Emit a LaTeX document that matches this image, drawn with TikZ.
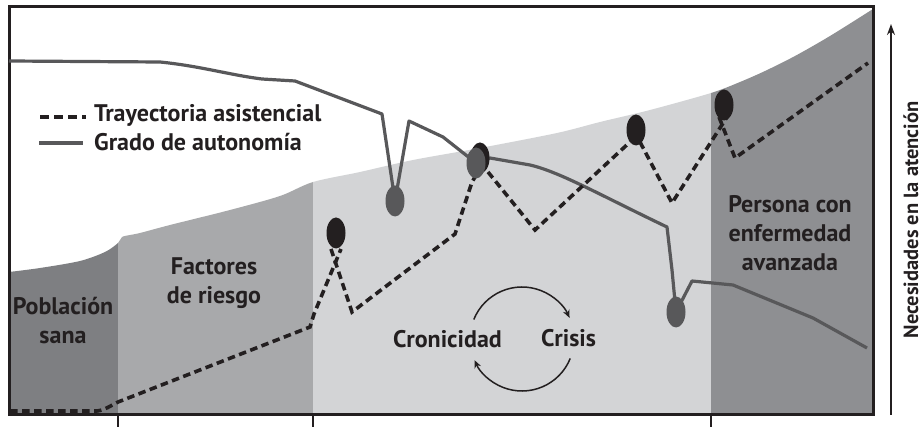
\documentclass[tikz,border=0pt]{standalone}
\usepackage{fontspec}
\setmainfont{PT Sans}
\usetikzlibrary{arrows.meta,shapes.geometric}
\definecolor{cblack}{HTML}{231F20}
\definecolor{cgray}{HTML}{58585A}
\definecolor{csana}{HTML}{7E7F82}
\definecolor{cfact}{HTML}{A8A9AB}
\definecolor{ccron}{HTML}{D3D4D6}
\definecolor{cavan}{HTML}{8E8F92}
\begin{document}
\begin{tikzpicture}[x=1pt,y=-1pt,
  lbl/.style={font=\bfseries\fontsize{24}{28}\selectfont, text=cblack, inner sep=0pt},
  traj/.style={draw=cblack, line width=3.6pt, dash pattern=on 7.5pt off 4.5pt},
  autoline/.style={draw=cgray, line width=3.2pt, line join=round},
  gdot/.style={ellipse, fill=cgray, minimum width=19pt, minimum height=31pt, inner sep=0pt},
  bdot/.style={ellipse, fill=cblack, minimum width=19pt, minimum height=31pt, inner sep=0pt},
  cyc/.style={draw=cblack, line width=1.5pt, -{Stealth[length=8pt,width=7pt]}}
]
\useasboundingbox (0,0) rectangle (924,427);
% background regions
\begin{scope}
  \clip (9,415) -- plot[smooth,tension=0.5] coordinates{(9,272) (40,268) (80,261) (105,252) (118,243) (122,237) (130,235) (140,233) (170,225) (230,210) (280,196) (313,182) (360,172) (413,160) (480,148) (557,133) (600,122) (650,110) (711,93) (740,82) (765,71) (795,56) (830,36) (873,9)} -- (873,415) -- cycle;
  \fill[csana] (9,0) rectangle (118,415);
  \fill[cfact] (118,0) rectangle (313,415);
  \fill[ccron] (313,0) rectangle (711,415);
  \fill[cavan] (711,0) rectangle (873,415);
\end{scope}
% frame and ticks
\draw[cblack, line width=3pt] (9,7) rectangle (873,415);
\foreach \x in {118,313,711} \draw[cblack, line width=1.6pt] (\x,415) -- (\x,427);
% axis
\coordinate (axb) at (891,415);
\coordinate (axt) at (891,24);
\draw[cblack, line width=1.5pt, -{Stealth[length=11pt,width=8pt]}] (axb) -- (axt);
\node[font=\bfseries\fontsize{20.5}{24}\selectfont, text=cblack, rotate=90, anchor=base, inner sep=0pt] (axlbl) at (918,220) {Necesidades en la atención};
% legend
\coordinate (l1a) at (40,117); \coordinate (l1b) at (86,117);
\coordinate (l2a) at (39,143); \coordinate (l2b) at (83,143);
\draw[draw=cblack, line width=4pt, dash pattern=on 9pt off 5pt] (l1a) -- (l1b);
\draw[autoline] (l2a) -- (l2b);
\node[lbl, anchor=base west] (leg1) at (94,122) {Trayectoria asistencial};
\node[lbl, anchor=base west] (leg2) at (94,151) {Grado de autonomía};
% region labels
\node[lbl, anchor=base] (sana1) at (63,315) {Población};
\node[lbl, anchor=base] (sana2) at (63,344) {sana};
\node[lbl, anchor=base] (fac1) at (214,275) {Factores};
\node[lbl, anchor=base] (fac2) at (214,304) {de riesgo};
\node[lbl, anchor=base west] (cron) at (393,348) {Cronicidad};
\node[lbl, anchor=base west] (cris) at (541,347) {Crisis};
\node[lbl, anchor=base] (av1) at (790,213) {Persona con};
\node[lbl, anchor=base] (av2) at (790,242) {enfermedad};
\node[lbl, anchor=base] (av3) at (790,271) {avanzada};
% cycle
\coordinate (cc) at (522,339);
\draw[cyc] ([shift={(202:52)}]cc) arc[start angle=202, end angle=336, radius=52];
\draw[cyc] ([shift={(22:52)}]cc) arc[start angle=22, end angle=156, radius=52];
% autonomy line
\coordinate (g1) at (395,201);
\coordinate (g2) at (476,163);
\coordinate (g3) at (676,312);
\draw[autoline] (9,61) -- (160,62) .. controls (200,66) and (230,75) .. (262,79) -- (295,81) -- (382,114) -- (g1) -- (409,121) -- (443,137) -- (g2) -- (490,158) -- (530,165) .. controls (560,172) and (600,195) .. (667,227) -- (672,270) -- (g3) -- (692,281) -- (733,285) -- (813,318) -- (867,348);
% trajectory
\draw[traj] (10,411) -- (97,411) .. controls (105,410) and (110,406) .. (118,402) -- (310,327) -- (314,314) -- (341,249);
\draw[traj] (331,249) -- (352,312) -- (455,234) -- (472,182) -- (478,172);
\draw[traj] (488,172) -- (535,230) -- (630,142);
\draw[traj] (640,142) -- (672,203) -- (727,117);
\draw[traj] (719,117) -- (735,158) -- (868,63);
% dots
\node[bdot] (e1) at (336,233) {};
\node[gdot] (gd1) at (g1) {};
\node[bdot] (e2) at (480,158) {};
\node[gdot] (gd2) at (g2) {};
\node[bdot] (e3) at (636,130) {};
\node[bdot] (e4) at (724,105) {};
\node[gdot] (gd3) at (g3) {};
\end{tikzpicture}
\end{document}
